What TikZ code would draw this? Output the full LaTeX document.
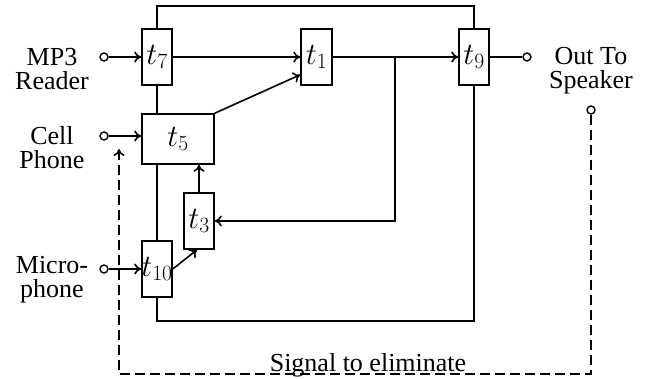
\RequirePackage{fix-cm}
\documentclass[tikz,border=0pt]{standalone}
\usepackage{fontspec}
\setmainfont{Liberation Serif}
\usetikzlibrary{arrows.meta,calc}
\begin{document}
\begin{tikzpicture}[x=1pt,y=-1pt,line width=1.6pt,
  font=\fontsize{26}{24}\selectfont,
  blk/.style={draw,minimum width=30pt,minimum height=56pt,inner sep=0pt,
    font=\fontsize{31}{31}\selectfont},
  port/.style={circle,draw,fill=white,line width=1.4pt,minimum size=8pt,inner sep=0pt},
  arr/.style={-{To[length=7pt,width=11pt]}},
  lbl/.style={align=center,inner sep=0pt},
  sig/.style={dash pattern=on 10pt off 5pt}]
\useasboundingbox (0,0) rectangle (655,379);
% blocks
\node[blk] (t7) at (157,57) {$t_7$};
\node[blk,minimum width=31pt] (t1) at (316.5,57) {$t_1$};
\node[blk] (t9) at (474,57) {$t_9$};
\node[blk,minimum width=72pt,minimum height=50pt] (t5) at (178,139) {$t_5$};
\node[blk] (t3) at (199,221) {$t_3$};
\node[blk] (t10) at (157,269) {\makebox[0pt]{$t_{10}$}};
% ports
\node[port] (mp3c) at (104,57) {};
\node[port] (cellc) at (104,136) {};
\node[port] (micc) at (104,269) {};
\node[port] (outc) at (527,57) {};
\node[port] (spkc) at (591,110) {};
% labels
\node[lbl] (lmp3) at (52,69) {MP3\\Reader};
\node[lbl] (lcell) at (52,148) {Cell\\Phone};
\node[lbl] (lmic) at (52,280) {Micro-\\phone};
\node[lbl] (lout) at (591,71) {Out To\\Speaker};
\node[lbl,anchor=base] (lsig) at (368,371) {Signal to eliminate};
% coordinates
\coordinate (br) at (395,57);
\coordinate (topy) at (0,6);
\coordinate (boty) at (0,321);
\coordinate (dashy) at (0,374);
\coordinate (dashx) at (119,0);
\coordinate (dtip) at (119,149);
% main loop
\draw (t7.north) -- (t7.north |- topy) -| (t9.north);
\draw (t7.south) -- (t7.south |- t5.north);
\draw (t7.south |- t5.south) -- (t10.north);
\draw (t10.south) -- (t10.south |- boty) -| (t9.south);
% signal path
\draw[arr] (mp3c) -- (t7);
\draw[arr] (t7) -- (t1);
\draw[arr] (t1) -- (t9);
\draw (t9) -- (outc);
\draw[arr] (cellc) -- (cellc -| t5.west);
\draw[arr] (micc) -- (t10.west);
\draw[arr] (t5.north east) -- ($(t1.south west)+(0,-11)$);
\draw[arr] (br) -- (br |- t3.east) -- (t3.east);
\draw[arr] (t3.north) -- (t3.north |- t5.south);
\draw[arr] (t10.east) -- ($(t3.south)+(-2,0)$);
% feedback
\draw[sig,arr] (spkc.south) -- (spkc |- dashy) -- (dashx |- dashy) -- (dtip);
\end{tikzpicture}
\end{document}
